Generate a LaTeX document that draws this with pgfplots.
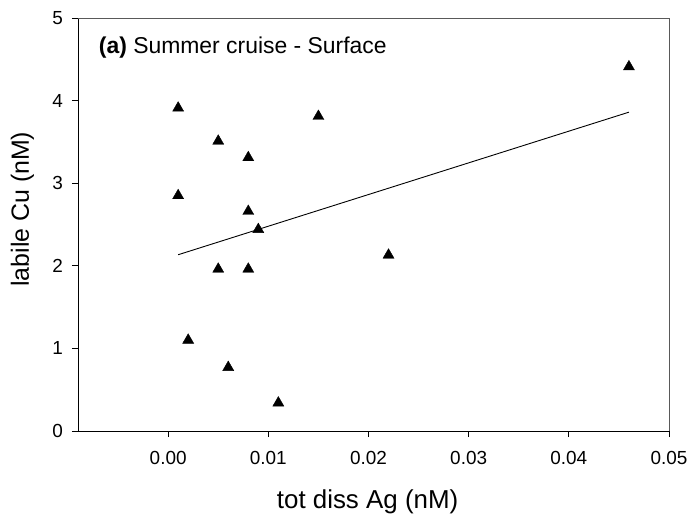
\documentclass[border=0pt]{standalone}
\usepackage{pgfplots}
\pgfplotsset{compat=1.18}
\usepackage{fontspec}
\setmainfont{Liberation Sans}

\begin{document}
\begin{tikzpicture}
\useasboundingbox (-78bp,-84bp) rectangle (613bp,431bp);
\begin{axis}[
  scale only axis,
  width=591bp, height=413bp,
  at={(0,0)}, anchor=south west,
  xmin=-0.009, xmax=0.05,
  ymin=0, ymax=5,
  axis lines*=left,
  axis line style={line width=0.9bp, black},
  tick align=outside,
  major tick length=6bp,
  tick style={line width=0.9bp, black},
  xtick={0,0.01,0.02,0.03,0.04,0.05},
  ytick={0,1,2,3,4,5},
  /pgf/number format/assume math mode=true,
  xticklabel style={/pgf/number format/.cd, fixed, fixed zerofill, precision=2, /tikz/.cd,
     font=\fontsize{19}{22}\selectfont, inner sep=0pt, yshift=-14bp},
  yticklabel style={font=\fontsize{19}{22}\selectfont, inner sep=0pt, xshift=-9bp},
  scaled x ticks=false,
  xlabel={tot diss Ag (nM)},
  ylabel={labile Cu (nM)},
  xlabel style={font=\fontsize{26}{30}\selectfont, at={(axis description cs:0.49,-0.172)}, anchor=center, inner sep=0pt},
  ylabel style={font=\fontsize{25}{29}\selectfont, at={(axis description cs:-0.094,0.537)}, anchor=center, inner sep=0pt},
  clip=false,
]
\addplot[only marks, mark=triangle*, mark size=6.4pt, mark options={fill=black, draw=black}] coordinates {
  (0.001,3.91) (0.005,3.51) (0.008,3.31) (0.001,2.85) (0.008,2.66) (0.009,2.44)
  (0.005,1.96) (0.008,1.96) (0.002,1.10) (0.006,0.77) (0.011,0.34)
  (0.015,3.81) (0.022,2.13) (0.046,4.41)
};
\addplot[black, line width=0.9bp, no marks] coordinates {(0.001,2.134) (0.046,3.86)};
\draw[black!65, line width=0.9bp] (rel axis cs:0,1) -- (rel axis cs:1,1) -- (rel axis cs:1,0);
\node[anchor=west, inner sep=0pt, font=\fontsize{23}{27}\selectfont] at (axis description cs:0.035,0.929) {\textbf{(a)} Summer cruise - Surface};
\end{axis}
\end{tikzpicture}
\end{document}
